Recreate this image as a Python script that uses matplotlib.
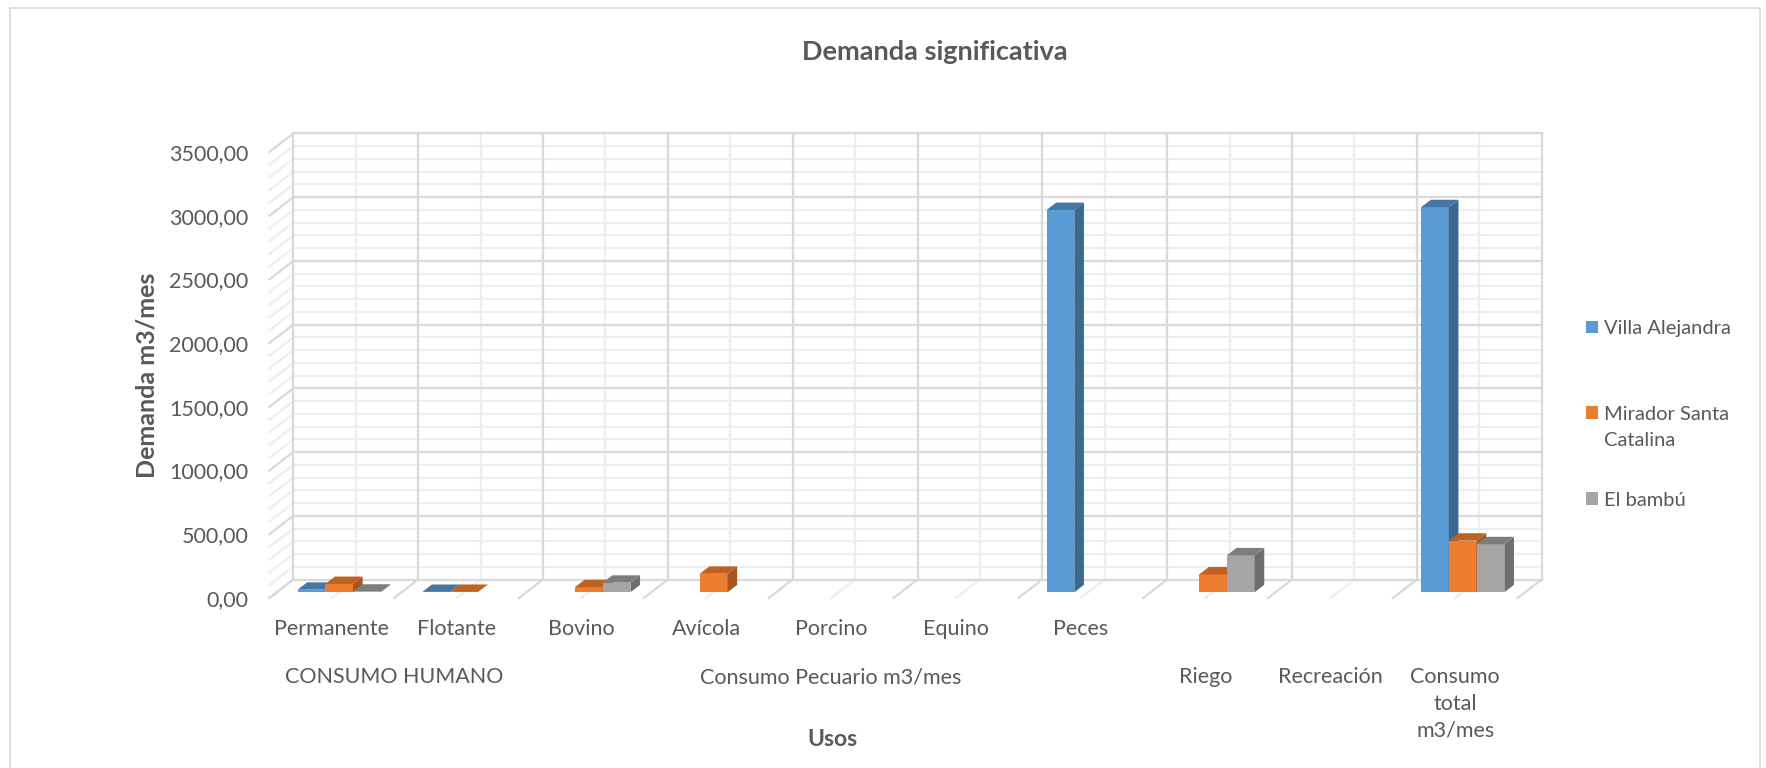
import numpy as np
import matplotlib
matplotlib.use('Agg')
import matplotlib.pyplot as plt
from matplotlib.patches import Polygon, Rectangle
from matplotlib.transforms import blended_transform_factory

# data
tick_labels = ['Permanente', 'Flotante', 'Bovino', 'Avícola', 'Porcino',
               'Equino', 'Peces', '', '', '']
group_labels = ['CONSUMO HUMANO', 'Consumo Pecuario m3/mes', 'Riego',
                'Recreación', 'Consumo\ntotal\nm3/mes']
group_spans = [(0, 1), (2, 6), (7, 7), (8, 8), (9, 9)]
series_names = ['Villa Alejandra', 'Mirador Santa', 'El bambú']
villa = [20, 3, np.nan, np.nan, np.nan, np.nan, 3000, np.nan, np.nan, 3022]
mirador = [65, 3, 40, 145, np.nan, np.nan, np.nan, 140, np.nan, 405]
bambu = [5, np.nan, 75, np.nan, np.nan, np.nan, np.nan, 290, np.nan, 377]
y_ticks = [0, 500, 1000, 1500, 2000, 2500, 3000, 3500]
y_tick_labels = ['0,00', '500,00', '1000,00', '1500,00', '2000,00',
                 '2500,00', '3000,00', '3500,00']

front_colors = ['#5B9BD5', '#ED7D31', '#A5A5A5']
side_colors = ['#3B6891', '#A8561C', '#6E6E6E']
top_colors = ['#4676A3', '#BF6120', '#7D7D7D']
text_color = '#595959'

plt.rcParams['font.family'] = ['Lato', 'DejaVu Sans']

W, H = 1766, 768
fig = plt.figure(figsize=(W / 100, H / 100), dpi=100)

# outer chart border
fig.patches.append(Rectangle((10 / W, -0.01), 1750 / W, 760 / H + 0.01,
                             transform=fig.transFigure, fill=False,
                             ec='#d9d9d9', lw=1.2))

# front plane of the 3D box = the axes box
ax = fig.add_axes([269.3 / W, (768 - 598) / H, 1248.4 / W, 446 / H])
n = len(tick_labels)
ax.set_xlim(0, n)
ax.set_ylim(0, 3500)
for s in ax.spines.values():
    s.set_visible(False)

# oblique depth offset (data units)
DX = 24 / 124.84
DY = 18.5 / (446 / 3500)

# walls: horizontal gridlines on back wall + diagonals on side wall
major_c, minor_c = '#d9d9d9', '#eeeeee'
for v in range(0, 3501, 100):
    c = major_c if v % 500 == 0 else minor_c
    z = 1 if v % 500 == 0 else 0.5
    ax.plot([DX, n + DX], [v + DY, v + DY], color=c, lw=1.6, zorder=z, clip_on=False)
    ax.plot([0, DX], [v, v + DY], color=c, lw=1.6, zorder=z, clip_on=False)

# vertical gridlines on back wall + floor diagonals
for k in np.arange(0, n + 0.01, 0.5):
    c = major_c if k % 1 == 0 else minor_c
    z = 1 if k % 1 == 0 else 0.5
    ax.plot([k + DX, k + DX], [DY, 3500 + DY], color=c, lw=1.6, zorder=z, clip_on=False)
    ax.plot([k, k + DX], [0, DY], color=c, lw=1.6, zorder=z, clip_on=False)

# 3D bars
w = 1 / 4.5
f0, depth = 0.31, 0.40
bdx, bdy = depth * DX, depth * DY
series = [villa, mirador, bambu]
x = np.arange(n)
for i in range(n):
    for j, vals in enumerate(series):
        v = vals[i]
        if np.isnan(v):
            continue
        x0 = x[i] + 0.75 * w + j * w + f0 * DX
        y0 = f0 * DY
        ax.bar(x0, v, width=w, bottom=y0, align='edge', color=front_colors[j],
               zorder=3, clip_on=False)
        side = [(x0 + w, y0), (x0 + w + bdx, y0 + bdy),
                (x0 + w + bdx, y0 + v + bdy), (x0 + w, y0 + v)]
        top = [(x0, y0 + v), (x0 + w, y0 + v),
               (x0 + w + bdx, y0 + v + bdy), (x0 + bdx, y0 + v + bdy)]
        ax.add_patch(Polygon(side, closed=True, fc=side_colors[j], ec='none',
                             zorder=3, clip_on=False))
        ax.add_patch(Polygon(top, closed=True, fc=top_colors[j], ec='none',
                             zorder=3, clip_on=False))

# axes ticks
ax.set_yticks(y_ticks)
ax.set_yticklabels(y_tick_labels)
ax.set_xticks(x + 0.5)
ax.set_xticklabels(tick_labels)
ax.tick_params(axis='y', length=0, pad=15, labelsize=15.5, labelcolor=text_color)
ax.tick_params(axis='x', length=0, pad=15, labelsize=15.5, labelcolor=text_color)

# second level of category labels
tr = blended_transform_factory(ax.transData, ax.transAxes)
for lab, (a, b) in zip(group_labels, group_spans):
    ax.text((a + b + 1) / 2, -0.155, lab, transform=tr, ha='center', va='top',
            fontsize=15.5, color=text_color, linespacing=1.42)

ax.text((832 - 269.3) / 1248.4, (598 - 740) / 446, 'Usos', transform=ax.transAxes,
        ha='center', va='center', fontsize=16.5, fontweight='bold', color=text_color)
ax.text((147 - 269.3) / 1248.4, 0.5, 'Demanda m3/mes', transform=ax.transAxes,
        rotation=90, ha='center', va='center', fontsize=18, fontweight='bold',
        color=text_color)

fig.text(935 / W, 1 - 52 / H, 'Demanda significativa', ha='center', va='center',
         fontsize=19.5, fontweight='bold', color=text_color)

# legend (Excel keeps an equal pitch between entries, second line hangs below)
handles = [Rectangle((0, 0), 1, 1, fc=c, ec='none') for c in front_colors]
leg = fig.legend(handles, series_names, loc='upper left',
                 bbox_to_anchor=(1586 / W, 1 - 320 / H), frameon=False,
                 borderpad=0, borderaxespad=0,
                 fontsize=14.5, labelspacing=3.42, handlelength=0.6,
                 handleheight=0.6, handletextpad=0.3)
for t in leg.get_texts():
    t.set_color(text_color)

# wrapped part of the second legend label
fig.canvas.draw()
inv = fig.transFigure.inverted()
bb = leg.get_texts()[1].get_window_extent()
x_txt, y_txt = inv.transform((bb.x0, (bb.y0 + bb.y1) / 2 - 26))
fig.text(x_txt, y_txt, 'Catalina', ha='left', va='center', fontsize=14.5,
         color=text_color)

fig.savefig('out.png', dpi=100)
